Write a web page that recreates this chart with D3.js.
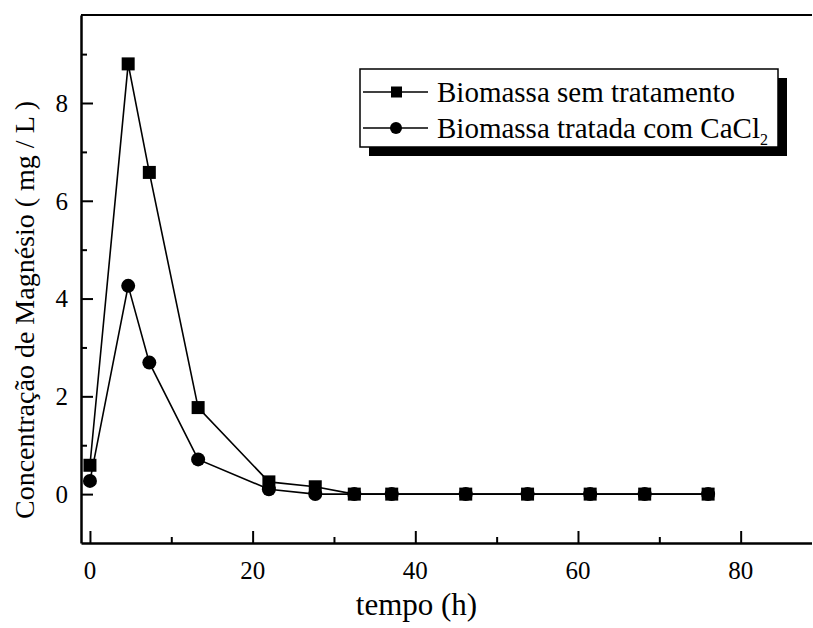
<!DOCTYPE html>
<html>
<head>
<meta charset="utf-8">
<script src="https://cdn.jsdelivr.net/npm/d3@7/dist/d3.min.js"></script>
<style>
  html, body { margin: 0; padding: 0; background: #fff; overflow: hidden; }
  svg { display: block; overflow: hidden; }
</style>
</head>
<body>
<svg id="chart" width="813" height="628"></svg>
<script>
// Sampling times (h)
const tempo = [0, 4.7, 7.3, 13.3, 22, 27.7, 32.5, 37.1, 46.2, 53.8, 61.5, 68.2, 76];
// Magnesium concentration (mg/L)
const semTratamento = [0.59, 8.80, 6.58, 1.77, 0.25, 0.15, 0.0, 0.0, 0.0, 0.0, 0.0, 0.0, 0.0];
const tratadaCaCl2  = [0.27, 4.26, 2.69, 0.71, 0.10, 0.0, 0.0, 0.0, 0.0, 0.0, 0.0, 0.0, 0.0];
// Axis ticks
const xMajor = [0, 20, 40, 60, 80];
const xMinor = [10, 30, 50, 70];
const yMajor = [0, 2, 4, 6, 8];
const yMinor = [1, 3, 5, 7, 9];
// Legend entries
const seriesNames = ["Biomassa sem tratamento", "Biomassa tratada com CaCl"];

(function () {
const FONT = "'Liberation Serif', 'Times New Roman', serif";
const W = 813, H = 628;
const root = d3.select("#chart").attr("font-family", FONT);
root.append("rect").attr("width", W).attr("height", H).attr("fill", "#fff");

// Everything is clipped to the visible page; the plot's right edge lies beyond it
root.append("defs").append("clipPath").attr("id", "page")
  .append("rect").attr("width", W - 1).attr("height", H);
const svg = root.append("g").attr("clip-path", "url(#page)");

const pL = 81, pT = 15, pB = 543, pR = 822;
const x = d3.scaleLinear().domain([-1.1, 90]).range([pL, pR]);
const y = d3.scaleLinear().domain([-1, 9.8]).range([pB, pT]);

// Frame: top border
svg.append("line").attr("x1", pL).attr("x2", W).attr("y1", pT).attr("y2", pT)
  .attr("stroke", "#000").attr("stroke-width", 2);

// Bottom axis with inward ticks
const gx = svg.append("g").attr("transform", `translate(0,${pB})`);
gx.call(d3.axisTop(x).tickValues(xMajor).tickSize(12).tickSizeOuter(0).tickFormat(""));
const gx2 = gx.append("g").call(d3.axisTop(x).tickValues(xMinor).tickSize(6).tickFormat(""));
gx2.select("path.domain").remove();
gx.selectAll("path.domain").attr("stroke-width", 2.5);
gx.selectAll(".tick line").attr("stroke-width", 2);
gx.selectAll(".xl").data(xMajor).join("text").attr("class", "xl")
  .attr("x", d => x(d)).attr("y", 36).attr("fill", "#000").attr("font-family", FONT)
  .attr("text-anchor", "middle").attr("font-size", 25).text(d => d);

// Left axis with inward ticks
const gy = svg.append("g").attr("transform", `translate(${pL},0)`);
gy.call(d3.axisRight(y).tickValues(yMajor).tickSize(12).tickSizeOuter(0).tickFormat(""));
const gy2 = gy.append("g").call(d3.axisRight(y).tickValues(yMinor).tickSize(6).tickFormat(""));
gy2.select("path.domain").remove();
gy.selectAll("path.domain").attr("stroke-width", 2.5);
gy.selectAll(".tick line").attr("stroke-width", 2);
gy.selectAll(".yl").data(yMajor).join("text").attr("class", "yl")
  .attr("x", -13).attr("y", d => y(d)).attr("dy", "0.35em").attr("fill", "#000").attr("font-family", FONT)
  .attr("text-anchor", "end").attr("font-size", 25).text(d => d);

// Axis titles
svg.append("text").attr("x", (pL + pR) / 2 - 35).attr("y", 615).attr("font-family", FONT)
  .attr("fill", "#000").attr("text-anchor", "middle").attr("font-size", 31).text("tempo (h)");
svg.append("text").attr("transform", `translate(34,${(pT + pB) / 2 + 31}) rotate(-90)`)
  .attr("fill", "#000").attr("text-anchor", "middle").attr("font-size", 28).attr("font-family", FONT)
  .text("Concentração de Magnésio ( mg / L )");

// Series
const line = d3.line().x(d => x(d[0])).y(d => y(d[1]));
const s1 = tempo.map((t, i) => [t, semTratamento[i]]);
const s2 = tempo.map((t, i) => [t, tratadaCaCl2[i]]);

svg.append("path").datum(s2).attr("d", line).attr("fill", "none")
  .attr("stroke", "#000").attr("stroke-width", 1.6);
svg.append("path").datum(s1).attr("d", line).attr("fill", "none")
  .attr("stroke", "#000").attr("stroke-width", 1.6);

svg.selectAll(".c").data(s2).join("circle").attr("class", "c")
  .attr("cx", d => x(d[0])).attr("cy", d => y(d[1])).attr("r", 7).attr("fill", "#000");
svg.selectAll(".s").data(s1).join("rect").attr("class", "s")
  .attr("x", d => x(d[0]) - 6.5).attr("y", d => y(d[1]) - 6.5)
  .attr("width", 13).attr("height", 13).attr("fill", "#000");

// Legend with drop shadow
const lg = svg.append("g");
const lx = 360, ly = 69, lw = 418, lh = 78;
lg.append("rect").attr("x", lx + 9).attr("y", ly + 9).attr("width", lw).attr("height", lh).attr("fill", "#000");
lg.append("rect").attr("x", lx).attr("y", ly).attr("width", lw).attr("height", lh)
  .attr("fill", "#fff").attr("stroke", "#000").attr("stroke-width", 1.5);

const rows = [ly + 23, ly + 59];
seriesNames.forEach((name, i) => {
  const ry = rows[i];
  lg.append("line").attr("x1", lx + 3).attr("x2", lx + 68).attr("y1", ry).attr("y2", ry)
    .attr("stroke", "#000").attr("stroke-width", 1.5);
  if (i === 0) {
    lg.append("rect").attr("x", lx + 31).attr("y", ry - 5.5).attr("width", 11).attr("height", 11).attr("fill", "#000");
  } else {
    lg.append("circle").attr("cx", lx + 36).attr("cy", ry).attr("r", 6).attr("fill", "#000");
  }
  const t = lg.append("text").attr("x", lx + 77).attr("y", ry + 10).attr("font-family", FONT)
    .attr("fill", "#000").attr("font-size", 29).text(name);
  if (i === 1) t.append("tspan").attr("font-size", 16).attr("dy", 7).text("2");
});
})();
</script>
</body>
</html>
